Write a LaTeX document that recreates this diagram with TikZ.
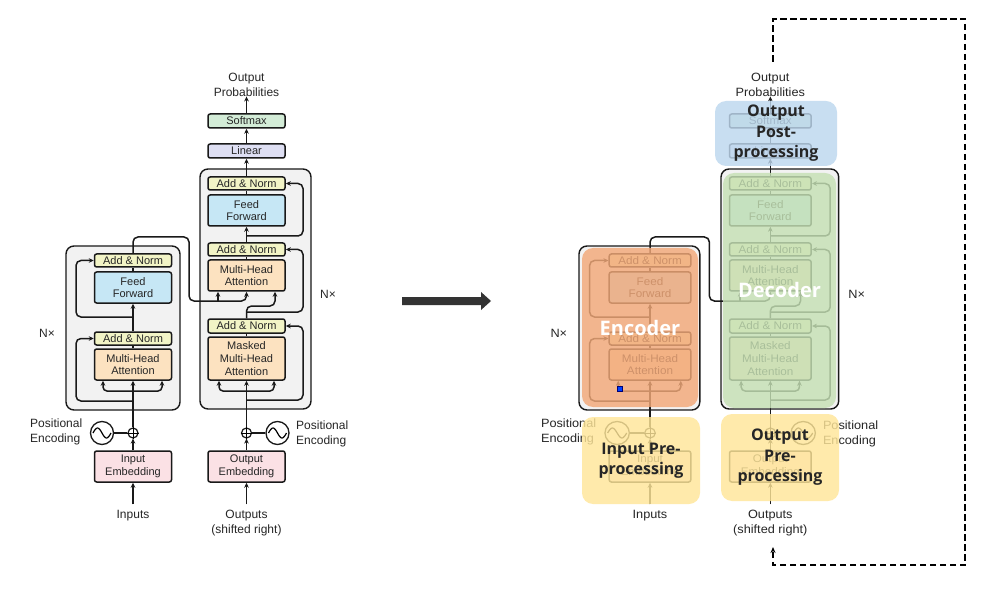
\documentclass[tikz,border=0pt]{standalone}
\usepackage{fontspec}
\setmainfont{Liberation Sans}
\newfontfamily\ovfont{Open Sans}
\usetikzlibrary{arrows.meta}
\definecolor{cAN}{HTML}{F2F4C6}
\definecolor{cFF}{HTML}{C6E7F5}
\definecolor{cMHA}{HTML}{FCE2C0}
\definecolor{cSoft}{HTML}{D3ECD7}
\definecolor{cLin}{HTML}{DEDFF3}
\definecolor{cEmb}{HTML}{FBE1E5}
\definecolor{cBG}{HTML}{F2F2F2}
\definecolor{ovBlue}{HTML}{BDD7EE}
\definecolor{ovOr}{HTML}{F2A878}
\definecolor{ovGr}{HTML}{C5E0B4}
\definecolor{ovYe}{HTML}{FFE699}
\definecolor{dk}{HTML}{333333}
\tikzset{
  ln/.style={line width=1.5pt, draw=black!90},
  arr/.style={ln, -{Stealth[length=5pt,width=4.6pt]}},
  blk/.style={draw=black!90, line width=1.5pt, rounded corners=2.2pt, minimum width=77pt,
    inner sep=0pt, align=center, font=\fontsize{11}{12.7}\selectfont, text=black!85},
  an/.style={blk, fill=cAN, minimum height=13pt},
  ffb/.style={blk, fill=cFF, minimum height=31pt},
  mha/.style={blk, fill=cMHA, minimum height=31pt},
  embb/.style={blk, fill=cEmb, minimum height=31pt},
  bgbox/.style={draw=black!90, line width=1.4pt, fill=cBG, rounded corners=8pt, inner sep=0pt},
  lab/.style={font=\fontsize{12}{15}\selectfont, text=black!85, align=center, inner sep=0pt},
  plusc/.style={circle, draw=black!90, line width=1.2pt, fill=white, minimum size=10pt, inner sep=0pt},
  sinc/.style={circle, draw=black!90, line width=1.3pt, fill=white, minimum size=23pt, inner sep=0pt},
  ov/.style={rounded corners=11pt, fill opacity=0.82, text opacity=1, inner sep=0pt, align=center},
  ovt/.style={font=\ovfont\bfseries\fontsize{16}{20.5}\selectfont, text=black!85},
  ovw/.style={font=\ovfont\bfseries\fontsize{20}{24}\selectfont, text=white},
}
\newcommand\tfdiagram[1]{%
  % background blocks
  \node[bgbox, minimum width=114pt, minimum height=164pt] (#1encbg) at (123,328) {};
  \node[bgbox, minimum width=111pt, minimum height=240pt] (#1decbg) at (255.5,289) {};
  % encoder nodes
  \node[an]   (#1ean2) at (133,260.5) {Add \& Norm};
  \node[ffb]  (#1eff)  at (133,287.5) {Feed\\Forward};
  \node[an]   (#1ean1) at (133,338.5) {Add \& Norm};
  \node[mha]  (#1emha) at (133,364.5) {Multi-Head\\Attention};
  \node[embb] (#1emb)  at (133,466.5) {Input\\Embedding};
  \node[plusc] (#1eplus) at (133,433) {};
  \node[sinc]  (#1esin)  at (102,433) {};
  \node[lab] (#1inp) at (133,516) {Inputs};
  \node[lab, anchor=west, align=left] (#1epos) at (30,431.5) {Positional\\Encoding};
  \node[lab] (#1enx) at (47,333) {N×};
  % decoder nodes
  \node[blk, fill=cSoft, minimum height=14pt] (#1soft) at (246.5,121) {Softmax};
  \node[blk, fill=cLin, minimum height=14pt]  (#1lin)  at (246.5,151) {Linear};
  \node[an]   (#1dan3) at (246.5,183.5) {Add \& Norm};
  \node[ffb]  (#1dff)  at (246.5,210.5) {Feed\\Forward};
  \node[an]   (#1dan2) at (246.5,249.5) {Add \& Norm};
  \node[mha]  (#1dmha) at (246.5,275.5) {Multi-Head\\Attention};
  \node[an, minimum height=14pt] (#1dan1) at (246.5,326) {Add \& Norm};
  \node[mha, minimum height=43pt, font=\fontsize{11}{13}\selectfont] (#1dmmha) at (246.5,358.5) {Masked\\Multi-Head\\Attention};
  \node[embb] (#1demb) at (246.5,466.5) {Output\\Embedding};
  \node[plusc] (#1dplus) at (246.5,433) {};
  \node[sinc]  (#1dsin)  at (277.5,433) {};
  \node[lab] (#1prob) at (246.5,84.5) {Output\\Probabilities};
  \node[lab] (#1outs) at (246.5,523.5) {Outputs\\(shifted right)};
  \node[lab, anchor=west, align=left] (#1dpos) at (296,433.5) {Positional\\Encoding};
  \node[lab] (#1dnx) at (328,294) {N×};
  % plus signs and sine waves
  \draw[line width=1pt] (#1eplus.north) -- (#1eplus.south) (#1eplus.west) -- (#1eplus.east);
  \draw[line width=1pt] (#1dplus.north) -- (#1dplus.south) (#1dplus.west) -- (#1dplus.east);
  \draw[line width=1.2pt] plot[domain=-1:1, samples=25, smooth] ({102+9*\x}, {433+5*sin(180*\x)});
  \draw[line width=1.2pt] plot[domain=-1:1, samples=25, smooth] ({277.5+9*\x}, {433+5*sin(180*\x)});
  % encoder connectors
  \draw[arr] ([yshift=6pt]#1inp.north) -- (#1emb.south);
  \draw[arr] (#1emb.north) -- (#1eplus.south);
  \draw[ln] (#1esin.east) -- (#1eplus.west);
  \draw[arr] (#1eplus.north) -- (#1emha.south);
  \draw[arr, rounded corners=4pt] (133,391) -| (103,0 |- #1emha.south);
  \draw[arr, rounded corners=4pt] (133,391) -| (162,0 |- #1emha.south);
  \draw[arr, rounded corners=5pt] (133,401) -| (76,0 |- #1ean1.west) -- (#1ean1.west);
  \draw[ln] (#1emha.north) -- (#1ean1.south);
  \draw[arr] (#1ean1.north) -- (#1eff.south);
  \draw[arr, rounded corners=5pt] (133,317) -| (76,0 |- #1ean2.west) -- (#1ean2.west);
  \draw[ln] (#1eff.north) -- (#1ean2.south);
  % encoder to decoder
  \draw[arr, rounded corners=5pt] (#1ean2.north) |- (189,237) |- (246.5,301) -- (246.5,0 |- #1dmha.south);
  \draw[arr] (218,301) -- (218,0 |- #1dmha.south);
  % decoder connectors
  \draw[arr] ([yshift=6pt]#1outs.north) -- (#1demb.south);
  \draw[arr] (#1demb.north) -- (#1dplus.south);
  \draw[ln] (#1dsin.west) -- (#1dplus.east);
  \draw[arr] (#1dplus.north) -- (#1dmmha.south);
  \draw[arr, rounded corners=4pt] (246.5,391) -| (219,0 |- #1dmmha.south);
  \draw[arr, rounded corners=4pt] (246.5,391) -| (274,0 |- #1dmmha.south);
  \draw[arr, rounded corners=5pt] (246.5,400) -| (303,0 |- #1dan1.east) -- (#1dan1.east);
  \draw[ln] (#1dmmha.north) -- (#1dan1.south);
  \draw[arr, rounded corners=5pt] (#1dan1.north) |- (275,306) -- (275,0 |- #1dmha.south);
  \draw[arr, rounded corners=5pt] (246.5,312) -| (303,0 |- #1dan2.east) -- (#1dan2.east);
  \draw[ln] (#1dmha.north) -- (#1dan2.south);
  \draw[arr] (#1dan2.north) -- (#1dff.south);
  \draw[arr, rounded corners=5pt] (246.5,236) -| (303,0 |- #1dan3.east) -- (#1dan3.east);
  \draw[ln] (#1dff.north) -- (#1dan3.south);
  \draw[arr] (#1dan3.north) -- (#1lin.south);
  \draw[arr] (#1lin.north) -- (#1soft.south);
  \draw[arr] (#1soft.north) -- (#1prob.south);
}
\begin{document}
\begin{tikzpicture}[x=1pt,y=-1pt]
  \path[use as bounding box, fill=white] (0,0) rectangle (1000,593);
  % left: original diagram
  \tfdiagram{L}
  % middle arrow
  \fill[dk] (402,297) -- (481,297) -- (481,292) -- (491,301) -- (481,310) -- (481,305) -- (402,305) -- cycle;
  % right: annotated copy
  \begin{scope}[shift={(650,0)}, xscale=1.06, shift={(-133,0)}, transform shape]
    \tfdiagram{R}
  \end{scope}
  % overlays
  \node[ov, fill=ovBlue, ovt, minimum width=122pt, minimum height=65pt] (post) at (776,133.5) {Output\\Post-\\processing};
  \node[ov, fill=ovOr, ovw, minimum width=116pt, minimum height=159pt] (enc) at (640,327.5) {Encoder};
  \node[ov, fill=ovGr, ovw, minimum width=113pt, minimum height=235pt] (dec) at (779.5,290.5) {Decoder};
  \node[ov, fill=ovYe, ovt, minimum width=118pt, minimum height=87pt] (inpre) at (641,460.5) {Input Pre-\\processing};
  \node[ov, fill=ovYe, ovt, minimum width=118pt, minimum height=87pt] (outpre) at (780,457.5) {Output\\Pre-\\processing};
  % selection handle
  \node[fill=blue!75!cyan, draw=blue!45!black, line width=0.4pt, minimum size=5pt, inner sep=0pt] (handle) at (620,389) {};
  % feedback loop
  \coordinate (lpA) at (773,62);
  \coordinate (lpB) at (773,19);
  \coordinate (lpC) at (965,19);
  \coordinate (lpD) at (965,565);
  \coordinate (lpE) at (773,565);
  \coordinate (lpF) at (773,547);
  \draw[line width=1.5pt, dash pattern=on 6.5pt off 3.5pt, -{Stealth[length=6pt,width=5pt]}]
    (lpA) -- (lpB) -- (lpC) -- (lpD) -- (lpE) -- (lpF);
\end{tikzpicture}
\end{document}
